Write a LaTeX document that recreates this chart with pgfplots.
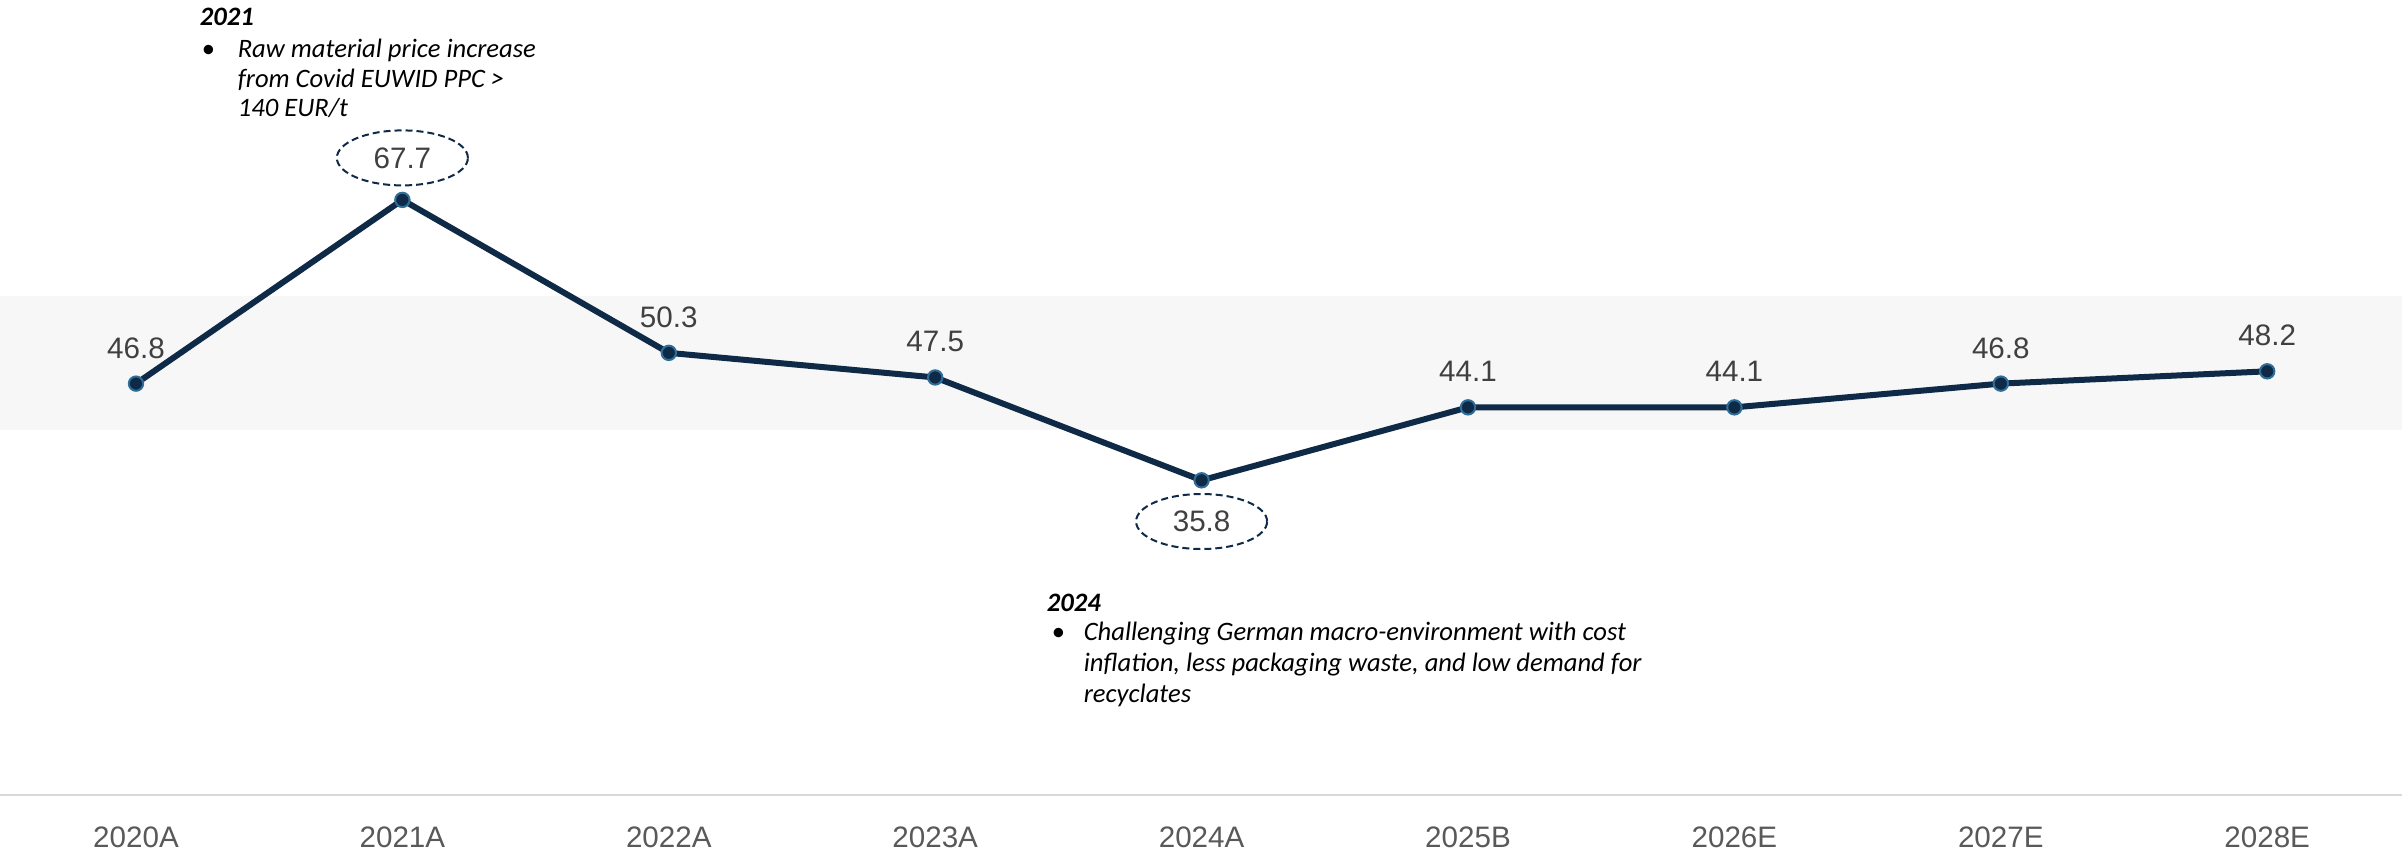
\documentclass[border=0pt]{standalone}
\usepackage{pgfplots}
\pgfplotsset{compat=1.18}
\usetikzlibrary{shapes.geometric}
\usepackage{fontspec}
\setmainfont{Liberation Sans}
\newfontfamily\anno{Carlito}
\definecolor{navy}{HTML}{0F2A47}
\definecolor{markedge}{HTML}{2E6E99}
\definecolor{labelgray}{HTML}{404040}
\definecolor{tickgray}{HTML}{595959}
\definecolor{bandgray}{HTML}{F7F7F7}
\definecolor{basegray}{HTML}{D9D9D9}
\begin{document}
\begin{tikzpicture}
\begin{axis}[
  at={(0pt,13.75pt)},
  scale only axis,
  x=66.6pt, y=2.1975pt,
  xmin=-0.5105, xmax=8.506, ymin=0, ymax=90.4,
  axis y line=none, axis x line*=bottom,
  x axis line style={draw=basegray, line width=0.5pt},
  xtick={0,...,8},
  xticklabels={2020A,2021A,2022A,2023A,2024A,2025B,2026E,2027E,2028E},
  major tick length=0pt,
  xticklabel style={font=\fontsize{7.4}{8}\selectfont, text=tickgray, inner sep=0pt, anchor=north, yshift=-7.75pt},
  /pgf/number format/assume math mode=true,
  clip=false,
  every node near coord/.append style={font=\fontsize{7.4}{9}\selectfont, text=labelgray, anchor=center, inner sep=0pt},
]
\fill[bandgray] (axis cs:-0.5105,41.5) rectangle (axis cs:8.506,56.8);
\addplot[navy, line width=1.5pt, mark=*, mark size=1.8pt,
  mark options={fill=navy, draw=markedge, line width=0.5pt}]
  coordinates {(0,46.8) (1,67.7) (2,50.3) (3,47.5) (4,35.8) (5,44.1) (6,44.1) (7,46.8) (8,48.2)};
\addplot[draw=none, mark=none, point meta=y,
  nodes near coords={\pgfmathprintnumber[fixed,fixed zerofill,precision=1,assume math mode=true]{\pgfplotspointmeta}},
  every node near coord/.append style={yshift=8.9pt}]
  coordinates {(0,46.8) (2,50.3) (3,47.5) (5,44.1) (6,44.1) (7,46.8) (8,48.2)};
\addplot[draw=none, mark=none, point meta=y,
  nodes near coords={\pgfmathprintnumber[fixed,fixed zerofill,precision=1,assume math mode=true]{\pgfplotspointmeta}},
  every node near coord/.append style={yshift=10.5pt, ellipse, draw=navy, line width=0.5pt, dash pattern=on 1.75pt off 1pt, minimum width=32.75pt, minimum height=13.75pt}]
  coordinates {(1,67.7)};
\addplot[draw=none, mark=none, point meta=y,
  nodes near coords={\pgfmathprintnumber[fixed,fixed zerofill,precision=1,assume math mode=true]{\pgfplotspointmeta}},
  every node near coord/.append style={yshift=-10.3pt, ellipse, draw=navy, line width=0.5pt, dash pattern=on 1.75pt off 1pt, minimum width=32.75pt, minimum height=13.75pt}]
  coordinates {(4,35.8)};
\end{axis}
\begin{scope}[every node/.style={inner sep=0pt, anchor=base west, font=\anno\fontsize{6.65}{8}\selectfont}]
\node at (49.75pt,206.25pt) {\bfseries\itshape 2021};
\node at (50.25pt,198.25pt) {\textbullet};
\node at (59.25pt,198.25pt) {\itshape Raw material price increase};
\node at (59.25pt,190.75pt) {\itshape from Covid EUWID PPC >};
\node at (59.25pt,183.5pt) {\itshape 140 EUR/t};
\node at (261.5pt,59.75pt) {\bfseries\itshape 2024};
\node at (262.75pt,52.5pt) {\textbullet};
\node at (270.75pt,52.5pt) {\itshape Challenging German macro-environment with cost};
\node at (270.75pt,44.75pt) {\itshape inflation, less packaging waste, and low demand for};
\node at (270.75pt,37pt) {\itshape recyclates};
\end{scope}
\pgfresetboundingbox
\useasboundingbox (0,0) rectangle (600.5pt,212.5pt);
\end{tikzpicture}
\end{document}
